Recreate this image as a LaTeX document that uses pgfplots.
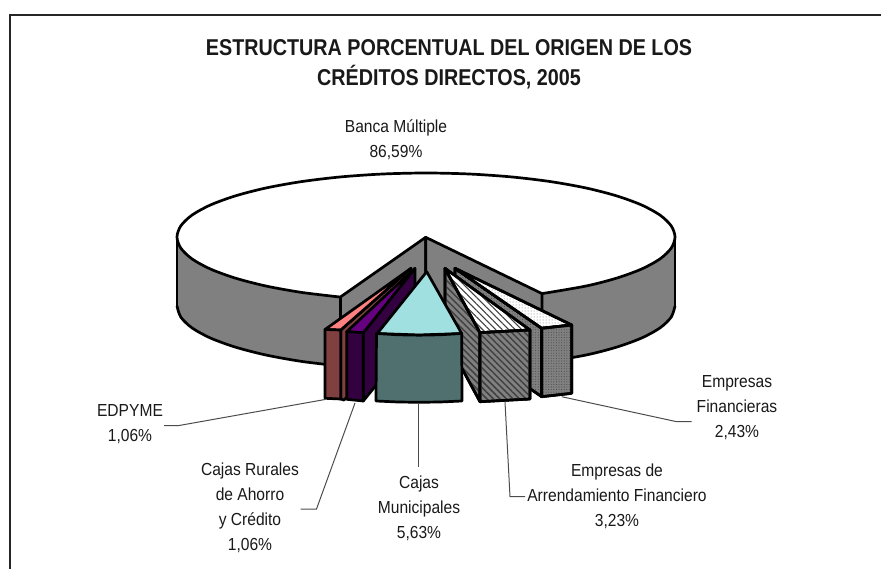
\documentclass[border=0pt]{standalone}
\usepackage{fontspec}
\setmainfont{Liberation Sans}
\usepackage{pgfplots}
\pgfplotsset{compat=1.18}
\usetikzlibrary{patterns.meta}
\definecolor{wall}{HTML}{808080}
\definecolor{pinktop}{HTML}{FF8080}
\definecolor{brownf}{HTML}{804040}
\definecolor{purpletop}{HTML}{660080}
\definecolor{purplef}{HTML}{330040}
\definecolor{cyantop}{HTML}{A0E0E0}
\definecolor{tealf}{HTML}{507070}
\tikzset{
  face/.style={draw=black,line width=2.7bp,line join=round},
  lead/.style={draw=black!70,line width=1bp},
  stripeG/.style={fill=wall,postaction={pattern={Lines[angle=-45,distance=4.6bp,line width=1.5bp]},pattern color=black!75}},
  stripeW/.style={fill=white,postaction={pattern={Lines[angle=-45,distance=4.6bp,line width=1.2bp]},pattern color=black!75}},
  dotG/.style={fill=wall,postaction={pattern={Dots[distance=2.6bp,radius=.55bp]},pattern color=black!70}},
  dotW/.style={fill=white,postaction={pattern={Dots[distance=3bp,radius=.5bp]},pattern color=black!55}},
  lbl/.style={align=center,font=\fontsize{17.5}{25}\selectfont,xscale=.894,text=black!90,inner sep=0pt},
  ttl/.style={align=center,font=\fontsize{23}{30}\selectfont\bfseries,xscale=.862,text=black!90,inner sep=0pt}
}
\begin{document}
\begin{tikzpicture}
\begin{axis}[
  scale only axis,width=881bp,height=569bp,
  xmin=0,xmax=881,ymin=0,ymax=569,y dir=reverse,
  axis lines=none,no markers,clip=true]
% frame
\addplot[draw=black!85,line width=2.6bp] coordinates {(881,15)(10,15)(10,569)};
% left outer wall
\addplot[fill=wall,draw=none] coordinates {(177,237)(180.8,248.1)(192,258.9)(210.4,269)(235.3,278.1)(265.9,286)(301.5,292.4)(340,297)(340,366)(301.5,361.4)(265.9,355)(235.3,347.1)(210.4,338)(192,327.9)(180.8,317.1)(177,306)} --cycle;
\addplot[black,line width=2.7bp,smooth] coordinates {(177,306)(180.8,317.1)(192,327.9)(210.4,338)(235.3,347.1)(265.9,355)(301.5,361.4)(340,366)};
\addplot[black,line width=2.7bp] coordinates {(177,237)(177,306)};
% right outer wall
\addplot[fill=wall,draw=none] coordinates {(542,293.6)(586.1,286)(616.7,278.1)(641.6,269)(660,258.9)(671.2,248.1)(675,237)(675,306)(671.2,317.1)(660,327.9)(641.6,338)(616.7,347.1)(586.1,355)(542,362.6)} --cycle;
\addplot[black,line width=2.7bp,smooth] coordinates {(542,362.6)(586.1,355)(616.7,347.1)(641.6,338)(660,327.9)(671.2,317.1)(675,306)};
\addplot[black,line width=2.7bp] coordinates {(675,237)(675,306)};
% top of large slice
\addplot[fill=white,draw=none] coordinates {(425.7,237.3)(542,293.6)(586.1,286)(616.7,278.1)(641.6,269)(660,258.9)(671.2,248.1)(675,237)(671.2,225.9)(660,215.1)(641.6,205)(616.7,195.9)(586.1,188)(550.5,181.6)(511.2,176.9)(469.2,174)(426,173)(382.8,174)(340.8,176.9)(301.5,181.6)(265.9,188)(235.3,195.9)(210.4,205)(192,215.1)(180.8,225.9)(177,237)(180.8,248.1)(192,258.9)(210.4,269)(235.3,278.1)(265.9,286)(301.5,292.4)(340,297)} --cycle;
\addplot[black,line width=2.7bp,smooth] coordinates {(542,293.6)(586.1,286)(616.7,278.1)(641.6,269)(660,258.9)(671.2,248.1)(675,237)(671.2,225.9)(660,215.1)(641.6,205)(616.7,195.9)(586.1,188)(550.5,181.6)(511.2,176.9)(469.2,174)(426,173)(382.8,174)(340.8,176.9)(301.5,181.6)(265.9,188)(235.3,195.9)(210.4,205)(192,215.1)(180.8,225.9)(177,237)(180.8,248.1)(192,258.9)(210.4,269)(235.3,278.1)(265.9,286)(301.5,292.4)(340,297)};
% inner walls
\addplot[fill=wall,face] coordinates {(425.7,237.3)(340.4,297)(340.4,366)(425.7,306)} --cycle;
\addplot[fill=wall,face] coordinates {(425.7,237.3)(542,293.6)(542,362)(425.7,306)} --cycle;
% Empresas Financieras
\addplot[dotG,face] coordinates {(455,268.3)(541.7,328.3)(541.7,396.7)(455,337)} --cycle;
\addplot[dotW,face] coordinates {(455,268.3)(541.7,328.3)(571.7,325)} --cycle;
\addplot[dotG,face] coordinates {(541.7,328.3)(571.7,325)(571.7,393.3)(541.7,396.7)} --cycle;
% Empresas de Arrendamiento
\addplot[stripeG,face] coordinates {(445,268.3)(480,332.7)(480,401.7)(445,337)} --cycle;
\addplot[stripeW,face] coordinates {(445,268.3)(480,332.7)(530,330)} --cycle;
\addplot[stripeG,face] coordinates {(480,332.7)(530,330)(530,399)(480,401.7)} --cycle;
% EDPYME
\addplot[fill=brownf,face] coordinates {(340.7,330)(411,268.3)(411,337)(344,400)(340.7,399)} --cycle;
\addplot[fill=pinktop,face] coordinates {(411,268.3)(325,329.5)(340.7,330)} --cycle;
\addplot[fill=brownf,face] coordinates {(325,329.5)(340.7,330)(340.7,399)(325,398.3)} --cycle;
% Cajas Rurales
\addplot[fill=purplef,face] coordinates {(363.3,332.7)(415,268.3)(415,337)(363.3,401)} --cycle;
\addplot[fill=purpletop,face] coordinates {(415,268.3)(346.7,331.7)(363.3,332.7)} --cycle;
\addplot[fill=purplef,face] coordinates {(346.7,331.7)(363.3,332.7)(363.3,401)(346.7,399.3)} --cycle;
% Cajas Municipales
\addplot[fill=cyantop,face] coordinates {(426.7,271.7)(377.3,333.5)(419,335)(461.7,333.5)} --cycle;
\addplot[fill=tealf,face] coordinates {(376.5,333.5)(398,334.8)(419,335.2)(440,334.8)(461.7,333.5)(462,401)(440,402)(419,402.3)(398,402)(376,401)} --cycle;
% leader lines
\addplot[lead] coordinates {(325,399.5)(178,425.7)(164,425.7)};
\addplot[lead] coordinates {(355,403)(316.5,509)(300.5,509)};
\addplot[lead] coordinates {(418.5,403)(418.5,467)};
\addplot[lead] coordinates {(505,402)(510,496.7)(525,496.7)};
\addplot[lead] coordinates {(561.7,396.7)(676.7,421.7)(691.7,421.7)};
% text
\node[ttl] at (axis cs:449,64.5) {ESTRUCTURA PORCENTUAL DEL ORIGEN DE LOS\\CRÉDITOS DIRECTOS, 2005};
\node[lbl] at (axis cs:396,140) {Banca Múltiple\\86,59\%};
\node[lbl] at (axis cs:130,424) {EDPYME\\1,06\%};
\node[lbl] at (axis cs:250,508) {Cajas Rurales\\de Ahorro\\y Crédito\\1,06\%};
\node[lbl] at (axis cs:419,508.5) {Cajas\\Municipales\\5,63\%};
\node[lbl] at (axis cs:617,496) {Empresas de\\Arrendamiento Financiero\\3,23\%};
\node[lbl] at (axis cs:737,408) {Empresas\\Financieras\\2,43\%};
\end{axis}
\path (0,0) rectangle (881bp,569bp);
\end{tikzpicture}
\end{document}
